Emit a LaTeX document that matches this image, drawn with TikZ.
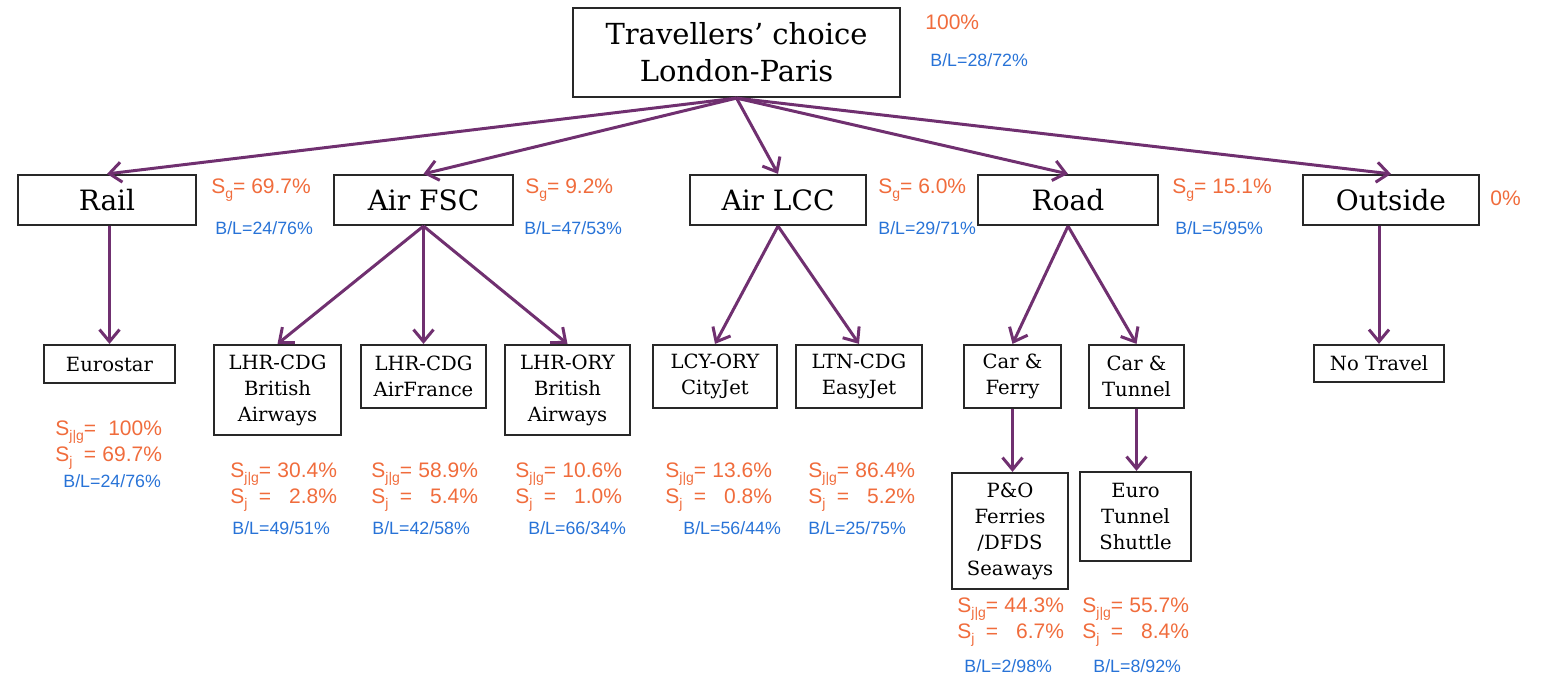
\documentclass[tikz,border=0pt]{standalone}
\usepackage{fontspec}
\setmainfont{DejaVu Serif}
\newfontfamily\labfont{Liberation Sans}
\usetikzlibrary{arrows.meta}
\definecolor{arr}{RGB}{112,48,112}
\definecolor{org}{RGB}{240,108,60}
\definecolor{blu}{RGB}{40,115,215}
\definecolor{bord}{RGB}{40,40,40}
\newcommand\lowsub[1]{\raisebox{-0.45ex}{\fontsize{7}{8}\selectfont#1}}
\newcommand\sblock[2]{\begin{tabular}{@{}l@{}l@{\hspace{0.3em}}r@{}}S\lowsub{j|g}&=&#1\\S\lowsub{j}\,&=&#2\end{tabular}}
\tikzset{
  box/.style={draw=bord, line width=1.1pt, inner sep=0pt, align=center},
  topbox/.style={box, font=\fontsize{14.5}{18.5}\selectfont},
  lvtwo/.style={box, minimum height=25pt, font=\fontsize{14}{17}\selectfont},
  lvthree/.style={box, font=\fontsize{9.8}{13}\selectfont},
  conn/.style={draw=arr, line width=1.5pt, -{Straight Barb[length=6pt,width=10pt]}},
  ol/.style={text=org, font=\labfont\fontsize{10.5}{12.5}\selectfont, inner sep=0pt, anchor=west},
  bl/.style={text=blu, font=\labfont\fontsize{8.9}{10}\selectfont, inner sep=0pt, anchor=west}
}
\begin{document}
\begin{tikzpicture}[x=0.5pt,y=-0.5pt]
\useasboundingbox (0,0) rectangle (1541,676);
% top
\node[topbox, minimum width=163.5pt, minimum height=44.5pt] (top) at (736.5,52.5) {Travellers’ choice\\London-Paris};
% level 2
\node[lvtwo, minimum width=89pt] (rail) at (107,200) {Rail};
\node[lvtwo, minimum width=89.5pt] (fsc) at (423.5,200) {Air FSC};
\node[lvtwo, minimum width=88pt] (lcc) at (778,200) {Air LCC};
\node[lvtwo, minimum width=90pt] (road) at (1068,200) {Road};
\node[lvtwo, minimum width=88pt] (out) at (1391,200) {Outside};
% level 3
\node[lvthree, minimum width=65.5pt, minimum height=19pt] (eu) at (109.5,364) {Eurostar};
\node[lvthree, minimum width=63.5pt, minimum height=45pt] (ba1) at (277.5,390) {LHR-CDG\\British\\Airways};
\node[lvthree, minimum width=62.5pt, minimum height=31.5pt] (af) at (423.5,376.5) {LHR-CDG\\AirFrance};
\node[lvthree, minimum width=62.5pt, minimum height=45pt] (ba2) at (567.5,390) {LHR-ORY\\British\\Airways};
\node[lvthree, minimum width=62pt, minimum height=31.5pt] (lcy) at (715,376.5) {LCY-ORY\\CityJet};
\node[lvthree, minimum width=63pt, minimum height=31.5pt] (ltn) at (859,376.5) {LTN-CDG\\EasyJet};
\node[lvthree, minimum width=48.5pt, minimum height=31.5pt] (cf) at (1012.5,376.5) {Car \&\\Ferry};
\node[lvthree, minimum width=47.5pt, minimum height=31.5pt] (ct) at (1136.5,376.5) {Car \&\\Tunnel};
\node[lvthree, minimum width=65pt, minimum height=18.5pt] (nt) at (1379,363.5) {No Travel};
% level 4
\node[lvthree, minimum width=58pt, minimum height=58pt] (po) at (1010,531) {P\&O\\Ferries\\/DFDS\\Seaways};
\node[lvthree, minimum width=55.5pt, minimum height=44.5pt] (et) at (1135.5,516.5) {Euro\\Tunnel\\Shuttle};
% connectors
\draw[conn] (top.south) -- (rail.north);
\draw[conn] (top.south) -- (fsc.north);
\draw[conn] (top.south) -- (lcc.north);
\draw[conn] (top.south) -- (road.north);
\draw[conn] (top.south) -- (out.north);
\draw[conn] (eu.north |- rail.south) -- (eu.north);
\draw[conn] (fsc.south) -- (ba1.north);
\draw[conn] (fsc.south) -- (af.north);
\draw[conn] (fsc.south) -- (ba2.north);
\draw[conn] (lcc.south) -- (lcy.north);
\draw[conn] (lcc.south) -- (ltn.north);
\draw[conn] (road.south) -- (cf.north);
\draw[conn] (road.south) -- (ct.north);
\draw[conn] (nt.north |- out.south) -- (nt.north);
\draw[conn] (cf.south) -- (cf.south |- po.north);
\draw[conn] (ct.south) -- (ct.south |- et.north);
% labels top
\node[ol] (pTop) at (925,22) {100\%};
\node[bl] (bTop) at (930,60) {B/L=28/72\%};
% labels level 2
\node[ol] (sRail) at (211,190) {S\lowsub{g}= 69.7\%};
\node[bl] (bRail) at (215,228) {B/L=24/76\%};
\node[ol] (sFsc) at (525,190) {S\lowsub{g}= 9.2\%};
\node[bl] (bFsc) at (524,228) {B/L=47/53\%};
\node[ol] (sLcc) at (878,190) {S\lowsub{g}= 6.0\%};
\node[bl] (bLcc) at (878,228) {B/L=29/71\%};
\node[ol] (sRoad) at (1172,190) {S\lowsub{g}= 15.1\%};
\node[bl] (bRoad) at (1175,228) {B/L=5/95\%};
\node[ol] (sOut) at (1490,198) {0\%};
% labels level 3
\node[ol] (sEu) at (55,443.5) {\sblock{100\%}{69.7\%}};
\node[bl] (bEu) at (63,481) {B/L=24/76\%};
\node[ol] (sBa1) at (230,485.5) {\sblock{30.4\%}{2.8\%}};
\node[bl] (bBa1) at (232,528) {B/L=49/51\%};
\node[ol] (sAf) at (371,485.5) {\sblock{58.9\%}{5.4\%}};
\node[bl] (bAf) at (372,528) {B/L=42/58\%};
\node[ol] (sBa2) at (515,485.5) {\sblock{10.6\%}{1.0\%}};
\node[bl] (bBa2) at (528,528) {B/L=66/34\%};
\node[ol] (sLcy) at (665,485.5) {\sblock{13.6\%}{0.8\%}};
\node[bl] (bLcy) at (683,528) {B/L=56/44\%};
\node[ol] (sLtn) at (808,485.5) {\sblock{86.4\%}{5.2\%}};
\node[bl] (bLtn) at (808,528) {B/L=25/75\%};
% labels level 4
\node[ol] (sPo) at (957,620.5) {\sblock{44.3\%}{6.7\%}};
\node[bl] (bPo) at (964,666) {B/L=2/98\%};
\node[ol] (sEt) at (1082,620.5) {\sblock{55.7\%}{8.4\%}};
\node[bl] (bEt) at (1093,666) {B/L=8/92\%};
\end{tikzpicture}
\end{document}
